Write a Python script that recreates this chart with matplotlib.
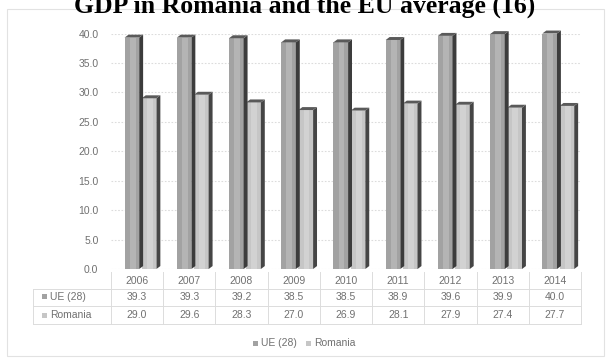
import matplotlib
matplotlib.use("Agg")
import matplotlib.pyplot as plt
from matplotlib.patches import Polygon, Rectangle
from matplotlib.lines import Line2D

years = ["2006", "2007", "2008", "2009", "2010", "2011", "2012", "2013", "2014"]
ue28 = [39.3, 39.3, 39.2, 38.5, 38.5, 38.9, 39.6, 39.9, 40.0]
romania = [29.0, 29.6, 28.3, 27.0, 26.9, 28.1, 27.9, 27.4, 27.7]
series_names = ["UE (28)", "Romania"]

W, H = 609, 358
fig = plt.figure(figsize=(W / 100, H / 100), dpi=100)
fig.patch.set_facecolor("white")
plt.rcParams["font.family"] = ["Liberation Sans", "DejaVu Sans"]

txt_col = "#707070"
grid_col = "#dcdcdc"
ue_col, rom_col = "#a2a2a2", "#c6c6c6"

X0, X1 = 111, 581      # plot / table columns, pixels
Y0, Y40 = 269, 33.5    # y of 0.0 and 40.0


def fx(px):
    return px / W


def fy(py):
    return 1 - py / H


# outer chart frame
fig.add_artist(Rectangle((fx(7), fy(356)), fx(604 - 7), (356 - 9) / H,
                         transform=fig.transFigure, fill=False, ec="#e2e2e2", lw=0.8))

# title, partly cut off at the top edge
fig.text(0.5, fy(12.5), "GDP in Romania and the EU average (16)", ha="center", va="baseline",
         fontsize=18.5, fontweight="bold", family="Liberation Serif", color="black")

ax = fig.add_axes([fx(X0), fy(Y0), fx(X1 - X0), (Y0 - Y40) / H])
ax.set_xlim(-0.5, len(years) - 0.5)
ax.set_ylim(0, 40)
for s in ax.spines.values():
    s.set_visible(False)
ax.set_xticks([])
ax.set_yticks([0, 5, 10, 15, 20, 25, 30, 35, 40])
ax.set_yticklabels([f"{v:.1f}" for v in ax.get_yticks()], color=txt_col, fontsize=7.5)
ax.tick_params(axis="y", length=0, pad=9)
ax.yaxis.grid(True, color=grid_col, lw=0.8, ls=(0, (1.5, 1.5)))
ax.set_axisbelow(True)

bw = 0.28
ddx, ddy = 0.075, 0.5   # depth of the 3d side


def bar3d(x0, h, face, light, side):
    ax.add_patch(Rectangle((x0, 0), bw, h, fc=face, ec="none", zorder=3))
    ax.add_patch(Rectangle((x0 + bw * 0.35, 0), bw * 0.4, h, fc=light, ec="none", zorder=3))
    ax.add_patch(Polygon([(x0 + bw, 0), (x0 + bw + ddx, ddy), (x0 + bw + ddx, h + ddy), (x0 + bw, h)],
                         closed=True, fc=side, ec="none", zorder=3, clip_on=False))
    ax.add_patch(Polygon([(x0, h), (x0 + ddx, h + ddy), (x0 + bw + ddx, h + ddy), (x0 + bw, h)],
                         closed=True, fc="#5a5a5a", ec="none", zorder=3, clip_on=False))


for i in range(len(years)):
    bar3d(i + 0.09, romania[i], rom_col, "#d2d2d2", "#454545")
    bar3d(i - 0.24, ue28[i], ue_col, "#b4b4b4", "#3c3c3c")

# data table under the plot
T0, T1 = 272, 324
tbl = fig.add_axes([fx(X0), fy(T1), fx(X1 - X0), (T1 - T0) / H])
tbl.set_xlim(-0.5, len(years) - 0.5)
tbl.set_ylim(T1, T0)
tbl.axis("off")
row_y = [281.5, 296.5, 315]
row_lines = [289, 306, 324]
for i, y in enumerate(years):
    tbl.text(i, row_y[0], y, ha="center", va="center", fontsize=7.5, color=txt_col)
    tbl.text(i, row_y[1], f"{ue28[i]:.1f}", ha="center", va="center", fontsize=7.5, color=txt_col)
    tbl.text(i, row_y[2], f"{romania[i]:.1f}", ha="center", va="center", fontsize=7.5, color=txt_col)
for xb in [k - 0.5 for k in range(len(years) + 1)]:
    tbl.plot([xb, xb], [T0, T1], color=grid_col, lw=0.7, clip_on=False)
for yb in row_lines:
    tbl.plot([-0.5, len(years) - 0.5], [yb, yb], color=grid_col, lw=0.7, clip_on=False)

# row headers
for yb in row_lines:
    fig.add_artist(Line2D([fx(33), fx(X0)], [fy(yb), fy(yb)], color=grid_col, lw=0.7))
fig.add_artist(Line2D([fx(33), fx(33)], [fy(289), fy(324)], color=grid_col, lw=0.7))
fig.add_artist(Rectangle((fx(42), fy(299)), fx(5), 5 / H, fc=ue_col, ec="none"))
fig.add_artist(Rectangle((fx(42), fy(317.5)), fx(5), 5 / H, fc=rom_col, ec="none"))
fig.text(fx(50), fy(296.5), series_names[0], fontsize=7.5, color=txt_col, va="center")
fig.text(fx(50), fy(315), series_names[1], fontsize=7.5, color=txt_col, va="center")

# legend
fig.add_artist(Rectangle((fx(253), fy(345.5)), fx(5), 5 / H, fc=ue_col, ec="none"))
fig.text(fx(261), fy(343), series_names[0], fontsize=7.5, color=txt_col, va="center")
fig.add_artist(Rectangle((fx(306), fy(345.5)), fx(5), 5 / H, fc=rom_col, ec="none"))
fig.text(fx(314), fy(343), series_names[1], fontsize=7.5, color=txt_col, va="center")

fig.savefig("out.png", dpi=100)
